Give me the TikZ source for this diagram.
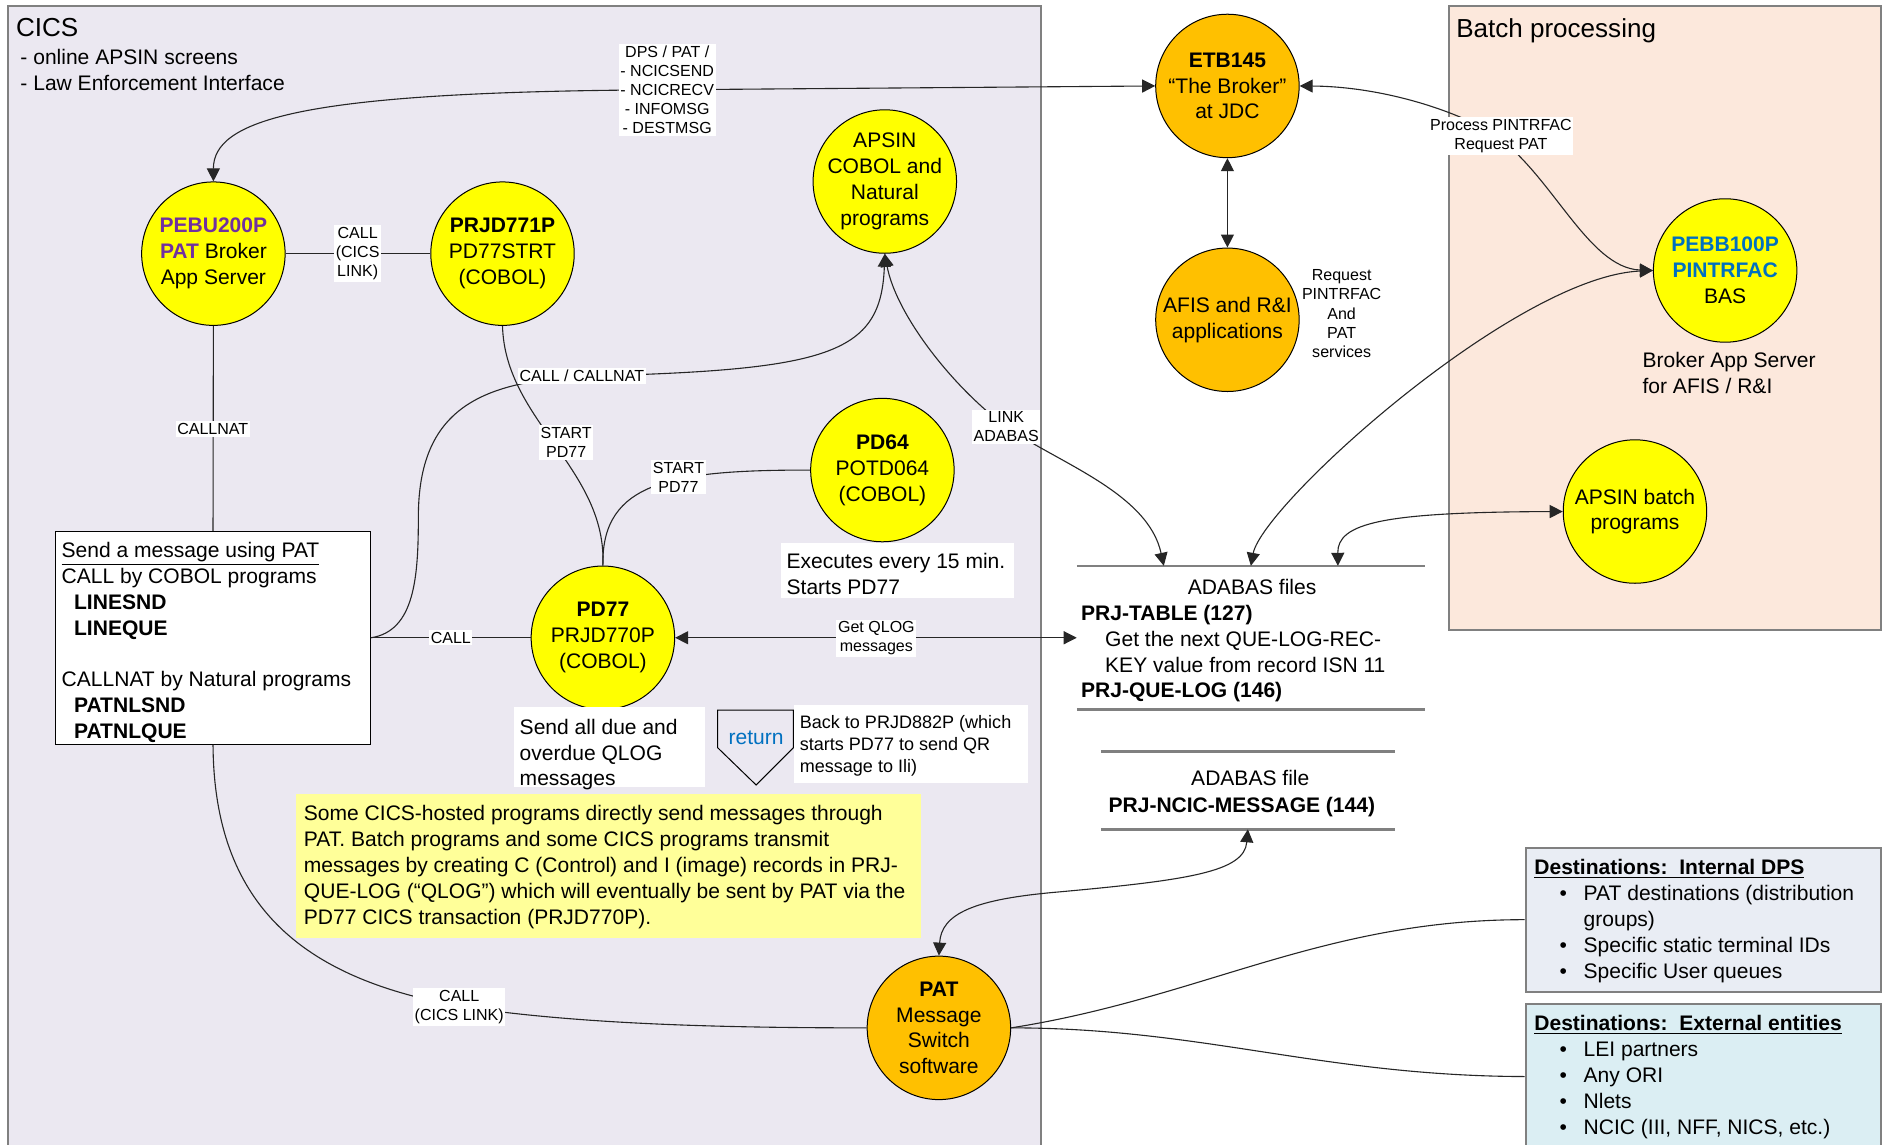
\documentclass[tikz,border=0pt]{standalone}
\usepackage{fontspec}
\setmainfont{Liberation Sans}
\usetikzlibrary{arrows.meta,calc}
\definecolor{cicsbg}{RGB}{235,232,241}
\definecolor{batchbg}{RGB}{252,232,220}
\definecolor{cyel}{RGB}{255,255,0}
\definecolor{corg}{RGB}{255,192,0}
\definecolor{notebg}{RGB}{255,255,153}
\definecolor{intbg}{RGB}{233,237,244}
\definecolor{extbg}{RGB}{219,238,243}
\definecolor{purp}{RGB}{112,48,160}
\definecolor{blu}{RGB}{0,112,192}
\definecolor{framegray}{RGB}{128,128,128}
\newcommand{\blt}{\makebox[24.6pt][l]{\hspace*{12.6pt}\textbullet}}
\begin{document}
\begin{tikzpicture}[x=0.6pt, y=-0.6pt, >={Triangle[length=6.5pt,width=6.5pt]},
 body/.style={font=\fontsize{10.5}{12.9}\selectfont, inner sep=0pt},
 ttl/.style={font=\fontsize{13}{15.6}\selectfont, inner sep=0pt},
 lbl/.style={font=\fontsize{8}{9.55}\selectfont, fill=white, inner xsep=0.8pt, inner ysep=1pt, align=center},
 circ/.style={circle, draw=black, line width=0.5pt, minimum size=71.6pt, inner sep=0pt},
 ycirc/.style={circ, fill=cyel},
 ocirc/.style={circ, fill=corg},
 ctext/.style={body, align=center},
 ltext/.style={body, align=left, anchor=north west},
 conn/.style={draw=black!85, line width=0.55pt},
 frame/.style={draw=framegray, line width=1pt},
 adaline/.style={draw=framegray, line width=1.2pt},
 wbox/.style={fill=white, draw=none, inner sep=0pt, anchor=north west}
]
\fill[white] (0,0) rectangle (1568,952);
\useasboundingbox (0,0) rectangle (1568,952);

% group frames
\fill[cicsbg] (7,5) rectangle (866,960);
\draw[frame] (7,960) -- (7,5) -- (866,5) -- (866,960);
\draw[frame, fill=batchbg] (1205,5) rectangle (1565,524);

\node[ttl, anchor=west] (cicst) at (13,22.6) {CICS};
\node[ltext] (cicsd) at (16.7,40.7) {- online APSIN screens\\- Law Enforcement Interface};
\node[ttl, anchor=north west] (batcht) at (1211,15.3) {Batch processing};

% circles
\node[ycirc] (pebu) at (177.5,211) {};
\node[ycirc] (prjd771) at (418,211) {};
\node[ycirc] (apsin) at (736,151) {};
\node[ocirc] (etb) at (1021,71.5) {};
\node[ocirc] (afis) at (1021,266) {};
\node[ycirc] (pebb) at (1435,225) {};
\node[ycirc] (apsinb) at (1360,425.5) {};
\node[ycirc] (pd64) at (734,391) {};
\node[ycirc] (pd77) at (501.5,530.5) {};
\node[ocirc] (pat) at (781,855) {};

\node[ctext] (pebut) at (pebu.center) {{\color{purp}\textbf{PEBU200P}}\\{\color{purp}\textbf{PAT}} Broker\\App Server};
\node[ctext] (prjd771t) at (prjd771.center) {\textbf{PRJD771P}\\PD77STRT\\(COBOL)};
\node[ctext] (apsint) at (apsin.center) {APSIN\\COBOL and\\Natural\\programs};
\node[ctext] (etbt) at (etb.center) {\textbf{ETB145}\\“The Broker”\\at JDC};
\node[ctext] (afist) at (afis.center) {AFIS and R\&I\\applications};
\node[ctext] (pebbt) at (pebb.center) {{\color{blu}\textbf{PEBB100P}}\\{\color{blu}\textbf{PINTRFAC}}\\BAS};
\node[ctext] (apsinbt) at (apsinb.center) {APSIN batch\\programs};
\node[ctext] (pd64t) at (pd64.center) {\textbf{PD64}\\POTD064\\(COBOL)};
\node[ctext] (pd77t) at (pd77.center) {\textbf{PD77}\\PRJD770P\\(COBOL)};
\node[ctext] (patt) at (pat.center) {\textbf{PAT}\\Message\\Switch\\software};

\node[ltext] (brokt) at (1366,292.7) {Broker App Server\\for AFIS / R\&I};
\node[font=\fontsize{8}{9.6}\selectfont, align=center, inner sep=0pt] (reqt) at (1116,261) {Request\\PINTRFAC\\And\\PAT\\services};

% send box
\node[draw=black, line width=0.6pt, fill=white, minimum width=157pt, minimum height=106.2pt, inner sep=0pt] (send) at (177.2,530.5) {};
\node[ltext] (sendt) at (51,450.7) {\underline{Send a message using PAT}\\CALL by COBOL programs\\\hspace*{6.2pt}\textbf{LINESND}\\\hspace*{6.2pt}\textbf{LINEQUE}\\[12.9pt]CALLNAT by Natural programs\\\hspace*{6.2pt}\textbf{PATNLSND}\\\hspace*{6.2pt}\textbf{PATNLQUE}};

% text boxes
\node[wbox, minimum width=116.4pt, minimum height=27.6pt] (exbox) at (649,451) {};
\node[ltext] (ext) at (654,459.7) {Executes every 15 min.\\Starts PD77};
\node[wbox, minimum width=95.4pt, minimum height=39.6pt] (sabox) at (427,588) {};
\node[ltext] (sat) at (432,597.7) {Send all due and\\overdue QLOG\\messages};
\node[wbox, minimum width=117pt, minimum height=39pt] (bkbox) at (660,586) {};
\node[font=\fontsize{9}{11.1}\selectfont, align=left, anchor=north west, inner sep=0pt] (bkt) at (665,594.6) {Back to PRJD882P (which\\starts PD77 to send QR\\message to Ili)};
\draw[line width=0.5pt, fill=cicsbg] (597,590.6) -- (660,590.6) -- (660,622) -- (629,653) -- (597,622) -- cycle;
\node[body, text=blu] (rett) at (629,614) {return};
\node[wbox, fill=notebg, minimum width=312pt, minimum height=72pt] (note) at (246,660) {};
\node[ltext] (notet) at (252.5,669.7) {Some CICS-hosted programs directly send messages through\\PAT. Batch programs and some CICS programs transmit\\messages by creating C (Control) and I (image) records in PRJ-\\QUE-LOG (“QLOG”) which will eventually be sent by PAT via the\\PD77 CICS transaction (PRJD770P).};

% ADABAS files
\node[minimum width=173.4pt, minimum height=71.4pt, inner sep=0pt] (ada) at (1040.5,530.5) {};
\draw[adaline] (ada.north west) -- (ada.north east);
\draw[adaline] (ada.south west) -- (ada.south east);
\node[body] (adat) at (1041.5,488) {ADABAS files};
\node[body, anchor=base west] (prjt) at (899,516.3) {\textbf{PRJ-TABLE (127)}};
\node[ltext] (gett) at (919,524.7) {Get the next QUE-LOG-REC-\\KEY value from record ISN 11};
\node[body, anchor=base west] (prjq) at (899,580.3) {\textbf{PRJ-QUE-LOG (146)}};

\node[minimum width=146.4pt, minimum height=38.4pt, inner sep=0pt] (ncic) at (1038,657.5) {};
\draw[adaline] (ncic.north west) -- (ncic.north east);
\draw[adaline] (ncic.south west) -- (ncic.south east);
\node[body] (adaft) at (1040,647) {ADABAS file};
\node[body, anchor=base] (ncict) at (1033,676) {\textbf{PRJ-NCIC-MESSAGE (144)}};

% destinations
\node[frame, fill=intbg, minimum width=177.6pt, minimum height=72pt, inner sep=0pt] (int) at (1417,765) {};
\node[ltext] (intt) at (1276,714.7) {\underline{\textbf{Destinations:\ \ Internal DPS}}\\\blt PAT destinations (distribution\\\hspace*{24.6pt}groups)\\\blt Specific static terminal IDs\\\blt Specific User queues};
\node[frame, fill=extbg, minimum width=177.6pt, minimum height=72.6pt, inner sep=0pt] (ext) at (1417,895.5) {};
\node[ltext] (extt) at (1276,844.4) {\underline{\textbf{Destinations:\ \ External entities}}\\\blt LEI partners\\\blt Any ORI\\\blt Nlets\\\blt NCIC (III, NFF, NICS, etc.)};

% connectors
\draw[conn,<->] (pebu.north) .. controls (177.5,100) and (250,78) .. (516,75) -- (etb.west);
\draw[conn,<->] (etb.east) .. controls (1150,72) and (1210,92) .. (1240,110) .. controls (1290,142) and (1320,223) .. (pebb.west);
\draw[conn,<->] (etb.south) -- (afis.north);
\draw[conn,<->] (ada.north) .. controls (1050,420) and (1260,230) .. (pebb.west);
\draw[conn,<->] ($(ada.north)!0.5!(ada.north east)$) .. controls (1112.5,435) and (1150,426) .. (apsinb.west);
\draw[conn,<->] (apsin.south) .. controls (745,260) and (790,320) .. (837,355) .. controls (880,385) and (955,410) .. ($(ada.north west)!0.5!(ada.north)$);
\draw[conn,->] (send.east) .. controls (345,525) and (348,480) .. (348,430) .. controls (348,340) and (400,318) .. (484,313) .. controls (690,308) and (733,295) .. (apsin.south);
\draw[conn] (prjd771.south) .. controls (420,350) and (505,390) .. (pd77.north);
\draw[conn] (pd64.west) .. controls (560,391) and (500,400) .. (pd77.north);
\draw[conn] (pebu.south) -- (send.north);
\draw[conn] (pebu.east) -- (prjd771.west);
\draw[conn] (send.east) -- (pd77.west);
\draw[conn,<->] (pd77.east) -- (ada.west);
\draw[conn] (send.south) .. controls (178,760) and (260,815) .. (382,837) .. controls (480,852) and (600,855) .. (pat.west);
\draw[conn,<->] (pat.north) .. controls (783,760) and (810,748) .. (880,742) .. controls (990,732) and (1035,725) .. (ncic.south);
\draw[conn] (pat.east) .. controls (1000,830) and (1100,765) .. (int.west);
\draw[conn] (pat.east) .. controls (1000,855) and (1100,895) .. (ext.west);

% connector labels
\node[lbl] (dpsl) at (555,74.6) {DPS / PAT /\\- NCICSEND\\- NCICRECV\\- INFOMSG\\- DESTMSG};
\node[lbl] (pprl) at (1248.5,113) {Process PINTRFAC\\Request PAT};
\node[lbl] (cl1) at (297.5,211) {CALL\\(CICS\\LINK)};
\node[lbl] (cnat) at (177,357) {CALLNAT};
\node[lbl] (ccn) at (484,312.5) {CALL / CALLNAT};
\node[lbl] (sp1) at (471,368) {START\\PD77};
\node[lbl] (sp2) at (564.4,397) {START\\PD77};
\node[lbl] (lnk) at (837,355) {LINK\\ADABAS};
\node[lbl] (cl2) at (375,530.5) {CALL};
\node[lbl] (gq) at (729,531) {Get QLOG\\messages};
\node[lbl] (cl3) at (382,837.4) {CALL\\(CICS LINK)};
\end{tikzpicture}
\end{document}
